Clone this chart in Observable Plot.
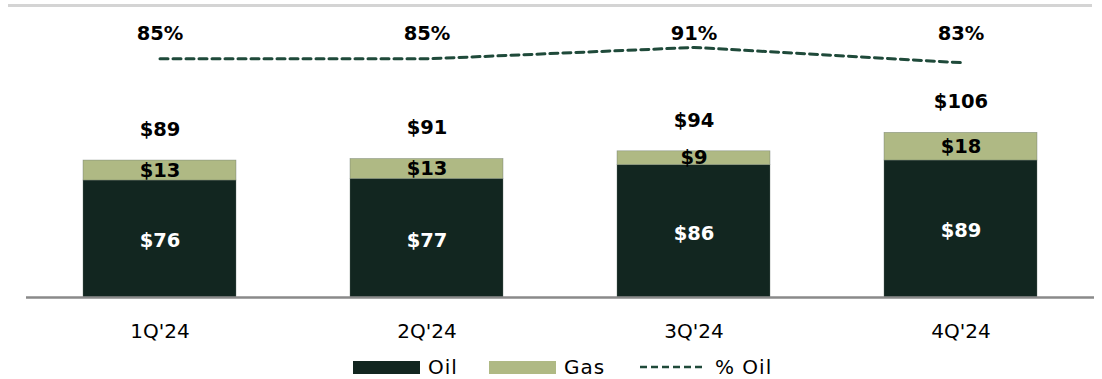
<!DOCTYPE html>
<html>
<head>
<meta charset="utf-8">
<script src="https://cdn.jsdelivr.net/npm/d3@7"></script>
<script src="https://cdn.jsdelivr.net/npm/@observablehq/plot@0.6"></script>
<style>
  html, body { margin: 0; padding: 0; background: #fff; }
  body { width: 1102px; height: 379px; position: relative; overflow: hidden; font-family: "DejaVu Sans", sans-serif; }
  #toprule { position: absolute; top: 4px; left: 8px; width: 1084px; height: 2.5px; background: #d4d4d4; }
  #chart svg { display: block; }
  #legend { position: absolute; top: 358px; left: 0; width: 1102px; height: 18px; font-size: 20px; color: #000; letter-spacing: 1px; }
  #legend .item { position: absolute; top: 0; height: 18px; display: flex; align-items: center; white-space: nowrap; }
  #legend .sw { display: inline-block; width: 67px; height: 13px; margin-right: 8px; }
</style>
</head>
<body>
<div id="toprule"></div>
<div id="chart"></div>
<div id="legend"></div>
<script>
const quarters = ["1Q'24", "2Q'24", "3Q'24", "4Q'24"];
const oilValues = [76, 77, 86, 89];
const gasValues = [13, 13, 9, 18];
const totalValues = [89, 91, 94, 106];
const pctOilValues = [85, 85, 91, 83];
const seriesNames = ["Oil", "Gas"];
const seriesColors = ["#122620", "#afb984"];
const lineColor = "#1f4a3a";

const stacked = [];
quarters.forEach((q, i) => {
  stacked.push({ quarter: q, series: "Oil", value: oilValues[i] });
  stacked.push({ quarter: q, series: "Gas", value: gasValues[i] });
});
const totals = quarters.map((q, i) => ({ quarter: q, total: totalValues[i], top: oilValues[i] + gasValues[i] }));
const pct = quarters.map((q, i) => ({ quarter: q, pct: pctOilValues[i] }));

// secondary axis for % Oil mapped into the primary y units
const pctScale = d3.scaleLinear().domain([0, 100]).range([50.1, 173.6]);

const font = "DejaVu Sans, sans-serif";

const chart = Plot.plot({
  width: 1102,
  height: 350,
  marginTop: 20,
  marginBottom: 53,
  marginLeft: 26,
  marginRight: 8,
  style: { fontFamily: font, background: "transparent" },
  x: { domain: quarters, paddingInner: 0.427, paddingOuter: 0.2135, label: null },
  y: { domain: [0, 180], axis: null },
  color: { domain: seriesNames, range: seriesColors },
  marks: [
    Plot.barY(stacked, Plot.stackY({ x: "quarter", y: "value", fill: "series", stroke: "#5f6e64", strokeWidth: 0.6, strokeOpacity: 0.6 })),
    Plot.ruleY([0], { stroke: "#8a8a8a", strokeWidth: 2.5 }),
    Plot.text(stacked.filter(d => d.series === "Oil"), Plot.stackY({ x: "quarter", y: "value", text: d => "$" + d.value, fill: "#fff", fontSize: 19.5, fontWeight: "bold", dy: 2 })),
    Plot.text(stacked, Plot.stackY({ x: "quarter", y: "value", text: d => d.series === "Gas" ? "$" + d.value : null, fill: "#000", fontSize: 19.5, fontWeight: "bold" })),
    Plot.text(totals, { x: "quarter", y: "top", text: d => "$" + d.total, fill: "#000", fontSize: 19.5, fontWeight: "bold", dy: -31 }),
    Plot.line(pct, { x: "quarter", y: d => pctScale(d.pct), stroke: lineColor, strokeWidth: 3, strokeDasharray: "8 5", curve: "linear" }),
    Plot.text(pct, { x: "quarter", text: d => d.pct + "%", frameAnchor: "top", lineAnchor: "middle", dy: 13, fill: "#000", fontSize: 19.5, fontWeight: "bold" }),
    Plot.axisX({ tickSize: 0, tickPadding: 26, fontSize: 20, fill: "#000", fontWeight: "normal", style: { letterSpacing: "1px" } })
  ]
});
document.getElementById("chart").appendChild(chart);

// legend
const legend = document.getElementById("legend");
const legendLefts = [353, 489, 640];
seriesNames.forEach((name, i) => {
  const item = document.createElement("div");
  item.className = "item";
  item.style.left = legendLefts[i] + "px";
  const sw = document.createElement("span");
  sw.className = "sw";
  sw.style.background = seriesColors[i];
  item.appendChild(sw);
  item.appendChild(document.createTextNode(name));
  legend.appendChild(item);
});
const lineItem = document.createElement("div");
lineItem.className = "item";
lineItem.style.left = legendLefts[2] + "px";
lineItem.innerHTML = `<svg width="66" height="6" style="margin-right:9px"><line x1="0" y1="3" x2="66" y2="3" stroke="${lineColor}" stroke-width="2.5" stroke-dasharray="7 4"/></svg>% Oil`;
legend.appendChild(lineItem);
</script>
</body>
</html>
